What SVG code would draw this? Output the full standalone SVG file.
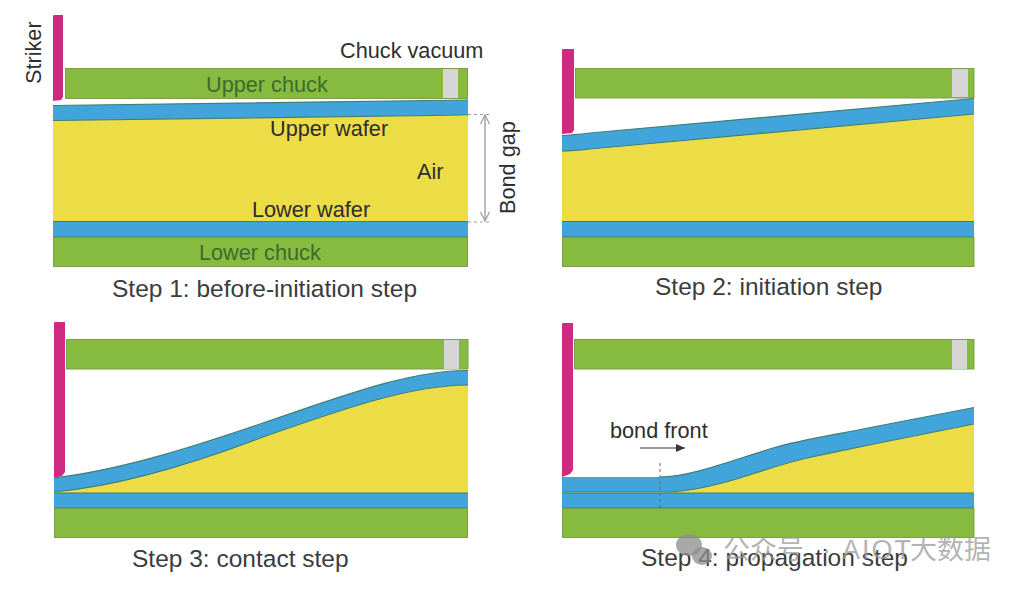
<svg xmlns="http://www.w3.org/2000/svg" width="1024" height="592" viewBox="0 0 1024 592">
<style>
.chuck{fill:#86bb40;stroke:#7d9f4a;stroke-width:1}
.wafer{fill:#41a5dc}
.edge{fill:none;stroke:#3f7f72;stroke-width:1.2}
.air{fill:#ecdc45}
.striker{fill:#cf2a82}
.vac{fill:#d6d6d6}
text{font-family:"Liberation Sans",Arial,sans-serif;fill:#2e2e2e}
.cap{font-size:24.500px;fill:#3c3c3c}
.lab{font-size:21.700px}
.inner{font-size:21.700px;fill:#3f6a2c}
.guide{stroke:#999;stroke-width:1;stroke-dasharray:3 3;fill:none}
.wm{font-family:"Liberation Sans","Noto Sans CJK SC",sans-serif;font-size:27px;fill:#9a9a9a;fill-opacity:.75}
</style>
<defs>
<marker id="open" markerWidth="12" markerHeight="10" refX="10" refY="5" orient="auto-start-reverse" markerUnits="userSpaceOnUse"><path d="M1 0.5L10 5L1 9.5" fill="none" stroke="#999" stroke-width="1.2"/></marker>
<marker id="solid" markerWidth="10" markerHeight="8" refX="9" refY="4" orient="auto" markerUnits="userSpaceOnUse"><path d="M0 0L9 4L0 8Z" fill="#333"/></marker>
</defs>

<g id="step1">
<path class="striker" d="M53 16Q53 15 54 15H63V97L61 100L53 101Z"/>
<rect class="chuck" x="65.500" y="68.500" width="402" height="30"/>
<rect class="vac" x="443" y="69" width="15" height="29"/>
<rect class="air" x="53" y="116" width="415" height="106"/>
<path class="wafer" d="M53 105.500L468 100V115L53 120.500Z"/>
<path class="edge" d="M53 105.500L468 100M53 120.500L468 115"/>
<rect class="wafer" x="53" y="221" width="415" height="16"/>
<path class="edge" d="M53 221.500H468M53 237H468"/>
<rect class="chuck" x="53.500" y="237.500" width="414" height="29"/>
<text class="lab" transform="translate(41 84) rotate(-90)">Striker</text>
<text class="lab" x="340" y="58">Chuck vacuum</text>
<text class="inner" x="206" y="92">Upper chuck</text>
<text class="lab" x="270" y="136">Upper wafer</text>
<text class="lab" x="417" y="179">Air</text>
<text class="lab" x="252" y="217">Lower wafer</text>
<text class="inner" x="199" y="260">Lower chuck</text>
<text class="cap" x="112" y="297">Step 1: before-initiation step</text>
<text class="lab" transform="translate(515 214) rotate(-90)">Bond gap</text>
</g>

<g id="step2">
<path class="striker" d="M562 50Q562 49 563 49H574V130L572 133L562 134Z"/>
<rect class="chuck" x="575.500" y="68.500" width="398.500" height="29.500"/>
<rect class="vac" x="952" y="69" width="16" height="28"/>
<path class="air" d="M562 151H574L974 114V222H562Z"/>
<path class="wafer" d="M562 135.500Q572 135 590 133L974 98.500V114L590 149Q572 151 562 151Z"/>
<path class="edge" d="M562 135.500Q572 135 590 133L974 98.500M974 114L590 149Q572 151 562 151"/>
<rect class="wafer" x="562" y="221" width="412" height="16"/>
<path class="edge" d="M562 221.500H974M562 237H974"/>
<rect class="chuck" x="562.500" y="237.500" width="411.500" height="29"/>
<text class="cap" x="655" y="295">Step 2: initiation step</text>
</g>

<g id="step3">
<path class="striker" d="M54 323Q54 322 55 322H65V472L62 476L54 478Z"/>
<rect class="chuck" x="66.500" y="339.500" width="401.500" height="29.500"/>
<rect class="vac" x="444" y="340" width="15" height="29"/>
<path class="air" d="M54 492C130 484 190 465 263 437C340 410 410 385 468 385V493H54Z"/>
<path class="wafer" d="M54 478C120 470 190 448 263 423C340 397 410 370 468 370.500V385C410 385 340 410 263 437C190 465 120 486 54 492Z"/>
<path class="edge" d="M54 478C120 470 190 448 263 423C340 397 410 370 468 370.500M468 385C410 385 340 410 263 437C190 465 120 486 54 492"/>
<rect class="wafer" x="54" y="493" width="414" height="15"/>
<path class="edge" d="M54 493H468M54 508H468"/>
<rect class="chuck" x="54.500" y="508.500" width="413" height="29"/>
<text class="cap" x="132" y="567">Step 3: contact step</text>
</g>

<g id="step4">
<path class="striker" d="M562 324Q562 323 563 323H573V470L570 474L562 477Z"/>
<rect class="chuck" x="574.500" y="339.500" width="399.500" height="29.500"/>
<rect class="vac" x="952" y="340" width="15" height="29"/>
<path class="air" d="M668 492C695 491 720 484 740 478C765 470 785 463 807 458C830 453 850 449 874 444L974 424V493H668Z"/>
<path class="wafer" d="M562 477H660C690 477 730 461 773 448C800 440 840 434 873 427L974 407.500V424L874 444C850 449 830 453 807 458C785 463 765 470 740 478C720 484 695 491 668 492H562Z"/>
<path class="edge" d="M660 477C690 477 730 461 773 448C800 440 840 434 873 427L974 407.500M974 424L874 444C850 449 830 453 807 458C785 463 765 470 740 478C720 484 695 491 668 492H562"/>
<rect class="wafer" x="562" y="493" width="412" height="15"/>
<path class="edge" d="M562 493H974M562 508H974"/>
<rect class="chuck" x="562.500" y="508.500" width="411.500" height="29"/>
<text class="lab" x="610" y="438">bond front</text>
<text class="cap" x="641" y="566">Step 4: propagation step</text>
</g>

<g id="connectors">
<path class="guide" d="M468 114.500H491M468 222H491"/>
<line x1="485" y1="115" x2="485" y2="221" stroke="#999" stroke-width="1.300" marker-start="url(#open)" marker-end="url(#open)"/>
<line x1="640" y1="448" x2="685" y2="448" stroke="#333" stroke-width="1" marker-end="url(#solid)"/>
<line x1="660" y1="463" x2="660" y2="508" stroke="#666" stroke-width="1" stroke-dasharray="3 3"/>
</g>

<g id="watermark">
<ellipse cx="689" cy="545" rx="13" ry="11" fill="#8c8c8c" fill-opacity=".75"/>
<ellipse cx="702" cy="556" rx="10" ry="9" fill="#8c8c8c" fill-opacity=".75"/>
<text class="wm" y="559"><tspan x="723">公众号</tspan><tspan x="822">·</tspan><tspan x="842" letter-spacing="2">AIOT</tspan><tspan x="910">大数据</tspan></text>
</g>
</svg>
